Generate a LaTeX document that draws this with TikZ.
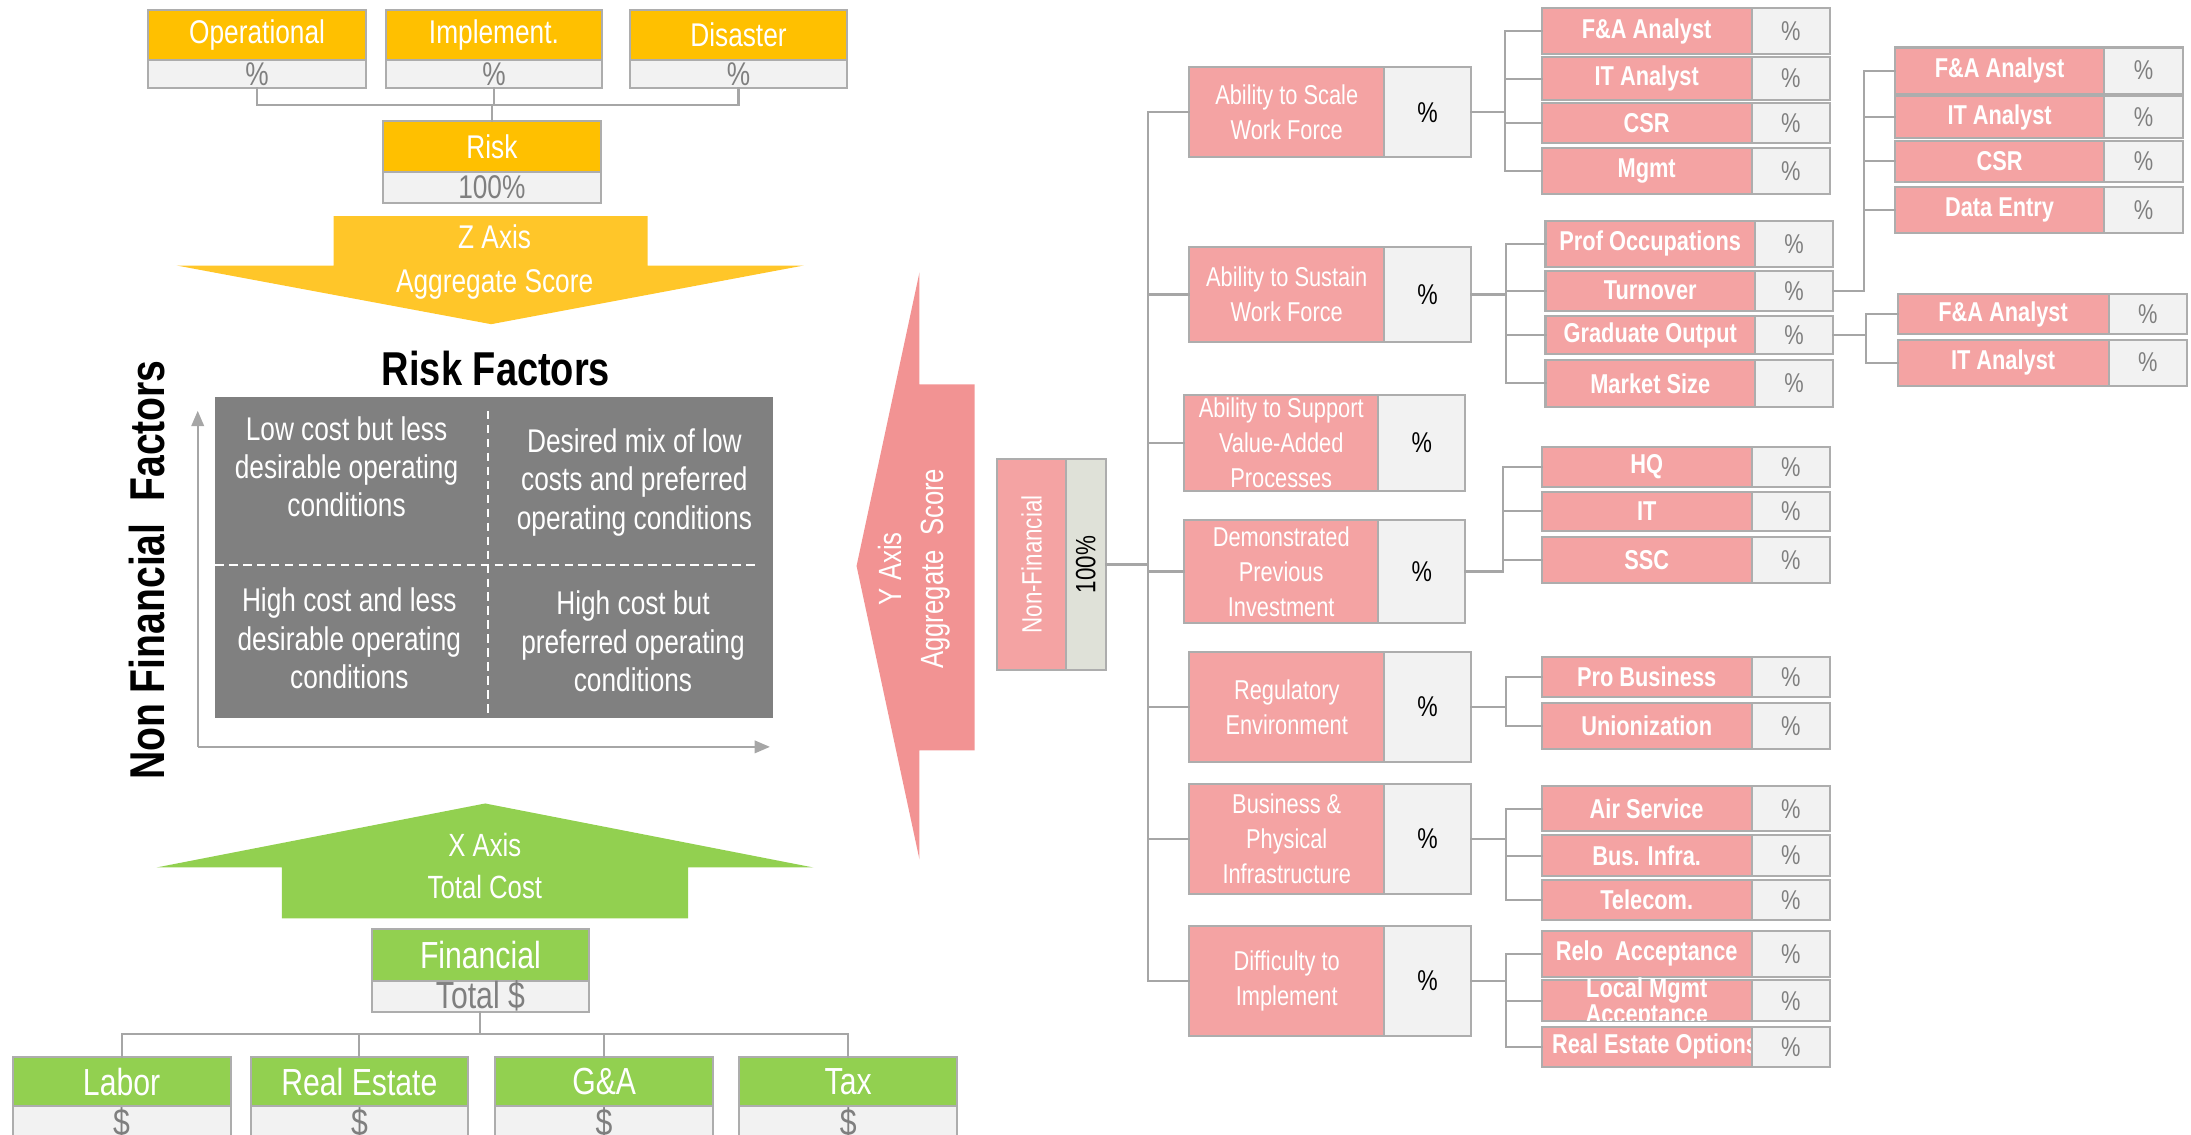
\documentclass[tikz,border=0pt]{standalone}
\usepackage{fontspec}
\usepackage{graphicx}
\setmainfont{Liberation Sans}[FakeStretch=0.8]
\usetikzlibrary{arrows.meta}
\definecolor{orng}{HTML}{FFC000}
\definecolor{orngT}{HTML}{FFC629}
\definecolor{grn}{HTML}{92D050}
\definecolor{pnkA}{HTML}{F29393}
\definecolor{pnkB}{HTML}{F4A3A3}
\definecolor{lgray}{HTML}{F2F2F2}
\definecolor{rgray}{HTML}{DFE1D8}
\definecolor{bord}{HTML}{ADADAD}
\definecolor{connc}{HTML}{A6A6A6}
\definecolor{quadc}{HTML}{808080}
\definecolor{txtg}{HTML}{7F7F7F}
\newcommand\myfA{\fontsize{23.5}{27.5}\selectfont}
\newcommand\myfC{\fontsize{27}{30}\selectfont}
\newcommand\myfL{\fontsize{19.5}{25}\selectfont}
\newcommand\myfB{\bfseries\fontsize{19.5}{19}\selectfont}
\newcommand\myfP{\fontsize{20.5}{24}\selectfont}
\newcommand\myfV{\fontsize{19.5}{24}\selectfont}
\newcommand\myfR{\fontsize{20}{24}\selectfont}
\tikzset{
  bx/.style={draw=bord, line width=1.5pt, inner sep=0pt, outer sep=0pt, align=center},
  orh/.style={bx, fill=orng, text=white, font=\myfA},
  orv/.style={bx, fill=lgray, text=txtg, font=\myfA},
  grh/.style={bx, fill=grn, text=white, font=\myfC},
  grv/.style={bx, fill=lgray, text=txtg, font=\myfC},
  pk1/.style={bx, fill=pnkB, text=white, font=\myfL},
  pv1/.style={bx, fill=lgray, text=black, font=\myfP},
  pk2/.style={bx, fill=pnkB, text=white, font=\myfB},
  pv2/.style={bx, fill=lgray, text=txtg, font=\myfV},
  cn/.style={draw=connc, line width=1.5pt, line cap=rect},
  axisln/.style={draw=connc, line width=1.5pt, -{Triangle[length=11pt,width=9pt]}},
  dsh/.style={draw=white, line width=1.3pt, dash pattern=on 6pt off 4pt},
  qtext/.style={text=white, align=center, font=\myfA},
}
% box: [style]{x1}{y1}{x2}{y2}{name}{text}
\newcommand\bx[7][]{\node[#1,minimum width={(#4-#2)*1pt},minimum height={(#5-#3)*1pt}] (#6) at ({(#2+#4)/2},{(#3+#5)/2}) {#7};}
% level-1 pair: name, x1, xm, x2, y1, y2, text
\newcommand\lone[7]{\bx[pk1]{#2}{#5}{#3}{#6}{#1}{#7}\bx[pv1]{#3}{#5}{#4}{#6}{#1v}{\%}}
% level-2 pair
\newcommand\ltwo[7]{\bx[pk2]{#2}{#5}{#3}{#6}{#1}{#7}\bx[pv2]{#3}{#5}{#4}{#6}{#1v}{\%}}
% branch: parent value node, x, children
\newcommand\branch[3]{%
  \coordinate (br#1) at (#2,0);
  \draw[cn] (#1.east) -- (#1.east -| br#1);
  \foreach \c in {#3}{\draw[cn] (#1.east -| br#1) |- (\c.west);}%
}
\begin{document}
\begin{tikzpicture}[x=1pt,y=-1pt]
\useasboundingbox (0,0) rectangle (1568,812);
\clip (0,0) rectangle (1568,812);

% ---------- top risk tree ----------
\bx[orh]{106}{7}{262}{43}{op}{Operational}
\bx[orv]{106}{43}{262}{63}{opv}{\%}
\bx[orh]{276}{7}{431}{43}{im}{Implement.}
\bx[orv]{276}{43}{431}{63}{imv}{\%}
\bx[orh]{451}{7}{606}{43}{ds}{Disaster}
\bx[orv]{451}{43}{606}{63}{dsv}{\%}
\bx[orh]{274}{86.6}{430}{123}{risk}{Risk}
\bx[orv]{274}{123}{430}{145}{riskv}{100\%}
\coordinate (tj) at (0,75);
\foreach \b in {opv,imv,dsv}{\draw[cn] (\b.south) |- (risk.north |- tj);}
\draw[cn] (risk.north |- tj) -- (risk.north);

% Z axis arrow
\fill[orngT] (238.8,154.6) -- (463.4,154.6) -- (463.4,190) -- (575.2,190) -- (351.5,232)
  -- (126.4,190) -- (238.8,190) -- cycle;
\node[text=white, align=center, font=\fontsize{23.5}{31}\selectfont] (zt) at (354,187.5) {Z Axis\\Aggregate Score};

% ---------- matrix ----------
\node[font=\bfseries\fontsize{34}{38}\selectfont] (rf) at (355,263.6) {Risk Factors};
\node[fill=quadc, inner sep=0pt, outer sep=0pt, minimum width=399pt, minimum height=230pt] (quad) at (353.5,399) {};
\coordinate (dv1) at (349.5,294);
\coordinate (dv2) at (349.5,512);
\coordinate (dh1) at (154,404.5);
\coordinate (dh2) at (541,404.5);
\draw[dsh] (dv1) -- (dv2);
\draw[dsh] (dh1) -- (dh2);
\node[qtext] (q1) at (248,334) {Low cost but less\\desirable operating\\conditions};
\node[qtext] (q2) at (454,345) {Desired mix of low\\costs and preferred\\operating conditions};
\node[qtext] (q3) at (250,457) {High cost and less\\desirable operating\\conditions};
\node[qtext] (q4) at (453,459) {High cost but\\preferred operating\\conditions};
\coordinate (org) at (141.5,534.5);
\coordinate (yend) at (141.5,294);
\coordinate (xend) at (551,534.5);
\draw[axisln] (org) -- (yend);
\draw[axisln] (org) -- (xend);
\node[rotate=90, font=\bfseries\fontsize{35}{38}\selectfont] (nff) at (105,408) {Non Financial\ \ Factors};

% Y axis arrow
\fill[pnkA] (613,405) -- (658,195) -- (658,275) -- (697.5,275) -- (697.5,537) -- (658,537) -- (658,615) -- cycle;
\node[rotate=90, text=white, align=center, font=\fontsize{23}{30}\selectfont] (yt) at (654,407) {Y Axis\\Aggregate\ \ Score};

% ---------- bottom financial tree ----------
\fill[grn] (347.2,575) -- (582,620.8) -- (492.4,620.8) -- (492.4,657.3) -- (201.8,657.3)
  -- (201.8,620.8) -- (112,620.8) -- cycle;
\node[text=white, align=center, font=\fontsize{23}{29.6}\selectfont] (xt) at (347,619.8) {X Axis\\Total Cost};
\bx[grh]{266}{665}{421.6}{702}{fin}{Financial}
\bx[grv]{266}{702}{421.6}{724}{finv}{Total \$}
\bx[grh]{9}{756.4}{165}{791.7}{lab}{Labor}
\bx[grv]{9}{791.7}{165}{816}{labv}{\$}
\bx[grh]{179.4}{756.4}{335}{791.7}{re}{Real Estate}
\bx[grv]{179.4}{791.7}{335}{816}{rev}{\$}
\bx[grh]{354.3}{756.4}{510.4}{791.7}{ga}{G\&A}
\bx[grv]{354.3}{791.7}{510.4}{816}{gav}{\$}
\bx[grh]{529}{756.4}{685}{791.7}{tax}{Tax}
\bx[grv]{529}{791.7}{685}{816}{taxv}{\$}
\coordinate (bj) at (0,740);
\draw[cn] (finv.south) -- (finv.south |- bj);
\foreach \b in {lab,re,ga,tax}{\draw[cn] (finv.south |- bj) -| (\b.north);}

% ---------- non-financial tree ----------
\bx[pk1,font=\myfR]{713.8}{328.5}{762.7}{479.5}{nf}{\rotatebox{90}{Non-Financial}}
\bx[bx,fill=rgray,text=black,font=\myfR]{762.7}{328.5}{791.5}{479.5}{nfv}{\rotatebox{90}{100\%}}

\lone{s1}{851}{990.7}{1052.5}{48.2}{112.6}{Ability to Scale\\Work Force}
\lone{s2}{851}{990.7}{1052.5}{176.5}{245}{Ability to Sustain\\Work Force}
\lone{s3}{847.4}{986.4}{1048.5}{282.7}{351.2}{Ability to Support\\Value-Added\\Processes}
\lone{s4}{847.4}{986.4}{1048.5}{372}{446}{Demonstrated\\Previous\\Investment}
\lone{s5}{851}{990.7}{1052.5}{466.8}{545}{Regulatory\\Environment}
\lone{s6}{851}{990.7}{1052.5}{561}{640}{Business \&\\Physical\\Infrastructure}
\lone{s7}{851}{990.7}{1052.5}{662.7}{741.5}{Difficulty to\\Implement}

\coordinate (trk) at (821.5,0);
\draw[cn] (nfv.east) -- (nfv.east -| trk);
\foreach \s in {s1,s2,s3,s4,s5,s6,s7}{\draw[cn] (nfv.east -| trk) |- (\s.west);}

% Scale group
\ltwo{a1}{1103.4}{1253.5}{1309.5}{6}{38.7}{F\&A Analyst}
\ltwo{a2}{1103.4}{1253.5}{1309.5}{41}{71.5}{IT Analyst}
\ltwo{a3}{1103.4}{1253.5}{1309.5}{73.5}{102.5}{CSR}
\ltwo{a4}{1103.4}{1253.5}{1309.5}{106}{139}{Mgmt}
\branch{s1v}{1077}{a1,a2,a3,a4}

% Sustain group
\ltwo{b1}{1106}{1256}{1312}{158}{191}{Prof Occupations}
\ltwo{b2}{1106}{1256}{1312}{193.7}{222.4}{Turnover}
\ltwo{b3}{1106}{1256}{1312}{226}{253.6}{Graduate Output}
\ltwo{b4}{1106}{1256}{1312}{257.6}{291}{Market Size}
\branch{s2v}{1078}{b1,b2,b3,b4}

% Turnover level 3
\ltwo{c1}{1356}{1506}{1562}{34}{67}{F\&A Analyst}
\ltwo{c2}{1356}{1506}{1562}{69}{98.5}{IT Analyst}
\ltwo{c3}{1356}{1506}{1562}{101}{130}{CSR}
\ltwo{c4}{1356}{1506}{1562}{133.6}{167}{Data Entry}
\branch{b2v}{1334}{c1,c2,c3,c4}

% Graduate output level 3
\ltwo{e1}{1358}{1509}{1565}{210.7}{239}{F\&A Analyst}
\ltwo{e2}{1358}{1509}{1565}{243}{276}{IT Analyst}
\branch{b3v}{1335.6}{e1,e2}

% Demonstrated group
\ltwo{f1}{1103.4}{1253.5}{1309.5}{319.7}{348.8}{HQ}
\ltwo{f2}{1103.4}{1253.5}{1309.5}{352}{380}{IT}
\ltwo{f3}{1103.4}{1253.5}{1309.5}{384}{417}{SSC}
\branch{s4v}{1075.5}{f1,f2,f3}

% Regulatory group
\ltwo{g1}{1103.4}{1253.5}{1309.5}{470}{499}{Pro Business}
\ltwo{g2}{1103.4}{1253.5}{1309.5}{503}{536}{Unionization}
\branch{s5v}{1077.5}{g1,g2}

% Business group
\ltwo{h1}{1103.4}{1253.5}{1309.5}{562.5}{595}{Air Service}
\ltwo{h2}{1103.4}{1253.5}{1309.5}{597.6}{627}{Bus. Infra.}
\ltwo{h3}{1103.4}{1253.5}{1309.5}{630}{658.5}{Telecom.}
\branch{s6v}{1078}{h1,h2,h3}

% Difficulty group
\ltwo{i1}{1103.4}{1253.5}{1309.5}{666}{699}{Relo\ \ Acceptance}
\bx[pk2]{1103.4}{701.5}{1253.5}{730.7}{i2}{}
\begin{scope}
  \clip (1103.4,690) rectangle (1253.5,730);
  \node[text=white,font=\myfB,align=center] (i2t) at (1178.5,718) {Local Mgmt\\Acceptance};
\end{scope}
\bx[pv2]{1253.5}{701.5}{1309.5}{730.7}{i2v}{\%}
\bx[pk2,path picture={\node[text=white,font=\myfB] (i3t) at ([xshift=6pt]path picture bounding box.center) {Real Estate Options};}]{1103.4}{735}{1253.5}{763.4}{i3}{}
\bx[pv2]{1253.5}{735}{1309.5}{763.4}{i3v}{\%}
\branch{s7v}{1078}{i1,i2,i3}

\end{tikzpicture}
\end{document}
